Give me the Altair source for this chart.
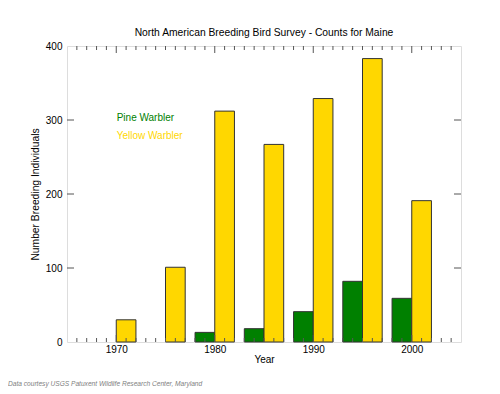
import altair as alt
import pandas as pd

# ---- data ----
years = [1970, 1975, 1980, 1985, 1990, 1995, 2000]
pine_warbler = [0, 0, 13, 18, 41, 82, 59]
yellow_warbler = [30, 101, 312, 267, 329, 383, 191]
series_names = ["Pine Warbler", "Yellow Warbler"]
series_colors = ["#008000", "#FFD700"]

x_major_ticks = [1970, 1980, 1990, 2000]
x_minor_ticks = [1966, 1967, 1968, 1969, 1971, 1972, 1973, 1974, 1975, 1976, 1977, 1978, 1979,
                 1981, 1982, 1983, 1984, 1985, 1986, 1987, 1988, 1989,
                 1991, 1992, 1993, 1994, 1995, 1996, 1997, 1998, 1999,
                 2001, 2002, 2003, 2004]
y_labels = [0, 100, 200, 300, 400]
y_major_ticks = [100, 200, 300]

title_text = "North American Breeding Bird Survey - Counts for Maine"
x_title = "Year"
y_title = "Number Breeding Individuals"
footnote = "Data courtesy USGS Patuxent Wildlife Research Center, Maryland"

FONT = "Liberation Sans"
W, H = 394, 296
FRAME = "#666666"
TICK = "#555555"

rows = []
for yr, p, y in zip(years, pine_warbler, yellow_warbler):
    rows.append({"year": yr, "series": series_names[0], "value": p})
    rows.append({"year": yr, "series": series_names[1], "value": y})
bars_df = pd.DataFrame(rows)
bars_df = bars_df[bars_df["value"] > 0]

xscale = alt.Scale(domain=[1965, 2005], nice=False, zero=False)
yscale = alt.Scale(domain=[0, 400], nice=False)

x_axis = alt.Axis(values=x_major_ticks, format="d", ticks=False, domain=False, grid=False,
                  labelFont=FONT, labelFontSize=10, labelColor="black", labelPadding=2,
                  titleFont=FONT, titleFontSize=10, titleFontWeight="normal", titleColor="black",
                  titlePadding=0, labelFlush=False)
y_axis = alt.Axis(values=y_labels, ticks=False, domain=False, grid=False,
                  labelFont=FONT, labelFontSize=10, labelColor="black", labelPadding=5,
                  titleFont=FONT, titleFontSize=10.3, titleFontWeight="normal", titleColor="black",
                  titlePadding=5)

bars = alt.Chart(bars_df).transform_calculate(
    x0=f"datum.series == '{series_names[0]}' ? datum.year - 2 : datum.year",
    x1=f"datum.series == '{series_names[0]}' ? datum.year : datum.year + 2",
).mark_bar(stroke="#333333", strokeWidth=1).encode(
    x=alt.X("x0:Q", scale=xscale, axis=x_axis, title=x_title),
    x2="x1:Q",
    y=alt.Y("value:Q", scale=yscale, axis=y_axis, title=y_title),
    y2=alt.datum(0),
    color=alt.Color("series:N", scale=alt.Scale(domain=series_names, range=series_colors), legend=None),
)

xmaj = pd.DataFrame({"year": x_major_ticks})
xmin = pd.DataFrame({"year": x_minor_ticks})
ymaj = pd.DataFrame({"v": y_major_ticks})

def xtick(df, y1, y2):
    return alt.Chart(df).mark_rule(color=TICK, strokeWidth=1).encode(
        x=alt.X("year:Q", scale=xscale, axis=x_axis, title=x_title),
        y=alt.value(y1), y2=alt.value(y2))

def ytick(df, x1, x2):
    return alt.Chart(df).mark_rule(color=TICK, strokeWidth=1).encode(
        y=alt.Y("v:Q", scale=yscale, axis=y_axis, title=y_title),
        x=alt.value(x1), x2=alt.value(x2))

ticks = [
    xtick(xmin, H, H - 4), xtick(xmaj, H, H - 7),
    xtick(xmin, 0, 4), xtick(xmaj, 0, 7),
    ytick(ymaj, 0, 7), ytick(ymaj, W, W - 7),
]

def label(text, color, x, y, size=10, style="normal"):
    return alt.Chart(pd.DataFrame({"t": [text]})).mark_text(
        align="left", baseline="alphabetic", font=FONT, fontSize=size, fontStyle=style, color=color
    ).encode(text="t:N", x=alt.value(x), y=alt.value(y))

legend_pine = label(series_names[0], series_colors[0], 49.7, 75)
legend_yellow = label(series_names[1], series_colors[1], 49.7, 93)
note = label(footnote, "#808080", -59, 340, size=6.6, style="italic")

title = alt.Chart(pd.DataFrame({"t": [title_text]})).mark_text(
    align="center", baseline="alphabetic", font=FONT, fontSize=10.3, color="black"
).encode(text="t:N", x=alt.value(W / 2), y=alt.value(-10))

chart = alt.layer(bars, *ticks, legend_pine, legend_yellow, note, title).properties(
    width=W, height=H,
    autosize=alt.AutoSizeParams(type="none"),
    padding={"left": 59, "top": 38, "right": 31, "bottom": 46},
).configure_view(stroke=FRAME, strokeWidth=1).configure(background="white")

chart.save("out.html", embed_options={"renderer": "svg", "actions": False})
